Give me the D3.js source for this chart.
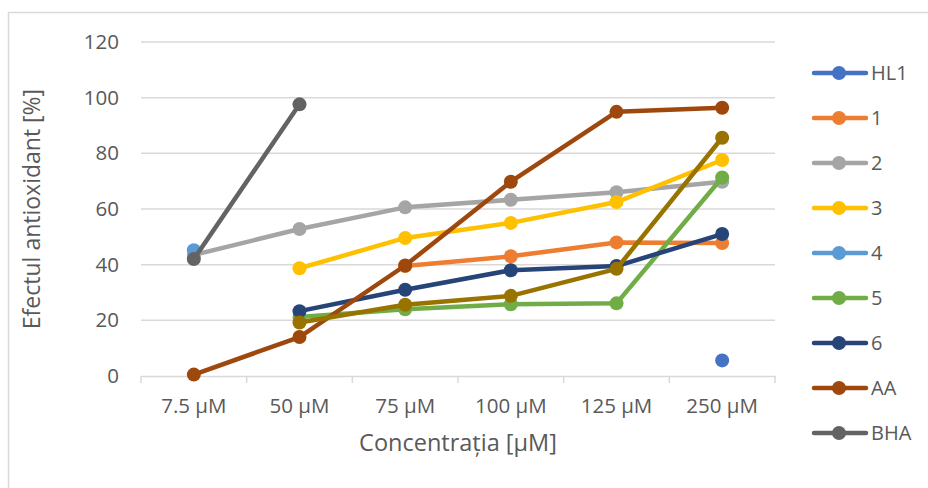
<!DOCTYPE html>
<html>
<head>
<meta charset="utf-8">
<script src="https://cdn.jsdelivr.net/npm/d3@7/dist/d3.min.js"></script>
<style>
  html, body { margin: 0; padding: 0; background: #fff; }
  svg { display: block; }
  text { font-family: "Open Sans", "Noto Sans", sans-serif; fill: #595959; }
</style>
</head>
<body>
<svg id="chart" width="928" height="488"></svg>
<script>
// ---- data ----
const categories = ["7.5 µM", "50 µM", "75 µM", "100 µM", "125 µM", "250 µM"];
const yTicks = [0, 20, 40, 60, 80, 100, 120];

const seriesHL1 = [null, null, null, null, null, 5.6];
const series1   = [null, null, 39.5, 43, 48, 47.8];
const series2   = [43.5, 52.8, 60.6, 63.3, 66, 69.8];
const series3   = [null, 38.7, 49.6, 55, 62.5, 77.6];
const series4   = [45.2, null, null, null, null, null];
const series5   = [null, 21.2, 24, 25.8, 26.1, 71.3];
const series6   = [null, 23.3, 31, 38, 39.5, 51];
const seriesAA  = [0.5, 14, 39.7, 69.8, 94.9, 96.4];
const seriesBHA = [42, 97.6, null, null, null, null];
const series7   = [null, 19.2, 25.6, 28.8, 38.5, 85.6];

const seriesNames  = ["HL1", "1", "2", "3", "4", "5", "6", "AA", "BHA", "7"];
const seriesColors = ["#4472C4", "#ED7D31", "#A5A5A5", "#FFC000", "#5B9BD5", "#70AD47", "#264478", "#9E480E", "#636363", "#997300"];
const seriesValues = [seriesHL1, series1, series2, series3, series4, series5, series6, seriesAA, seriesBHA, series7];
const legendNames  = ["HL1", "1", "2", "3", "4", "5", "6", "AA", "BHA"];

const xTitle = "Concentrația [µM]";
const yTitle = "Efectul antioxidant [%]";

// ---- layout ----
const svg = d3.select("#chart");
const plot = { left: 141, right: 775, top: 42, bottom: 376 };

// outer chart border
svg.append("rect")
  .attr("x", 8.5).attr("y", 12.5)
  .attr("width", 960).attr("height", 520)
  .attr("fill", "none").attr("stroke", "#d9d9d9").attr("stroke-width", 1.5);

const x = d3.scaleBand().domain(categories).range([plot.left, plot.right]).padding(0);
const y = d3.scaleLinear().domain([0, 120]).range([plot.bottom, plot.top]);

// gridlines
svg.append("g")
  .selectAll("line").data(yTicks.filter(d => d > 0)).join("line")
  .attr("x1", plot.left).attr("x2", plot.right)
  .attr("y1", d => y(d)).attr("y2", d => y(d))
  .attr("stroke", "#d9d9d9").attr("stroke-width", 1.5);

// y axis labels
const yAxis = svg.append("g").attr("transform", `translate(${plot.left},0)`)
  .call(d3.axisLeft(y).tickValues(yTicks).tickSize(0).tickPadding(22));
yAxis.select(".domain").remove();
yAxis.selectAll("text").style("font-size", "20.5px").attr("fill", "#595959")
  .style("font-family", "'Open Sans', sans-serif");

// x axis
const xAxis = svg.append("g").attr("transform", `translate(0,${plot.bottom})`)
  .call(d3.axisBottom(x).tickSize(0).tickPadding(22));
xAxis.select(".domain").attr("stroke", "#d9d9d9").attr("stroke-width", 1.5);
xAxis.selectAll("text").style("font-size", "20.5px").attr("fill", "#595959")
  .style("font-family", "'Open Sans', sans-serif");
// category boundary tick marks
const bounds = categories.map(c => x(c)).concat([plot.right]);
xAxis.selectAll("line.bt").data(bounds).join("line").attr("class", "bt")
  .attr("x1", d => d).attr("x2", d => d).attr("y1", 0).attr("y2", 7)
  .attr("stroke", "#d9d9d9").attr("stroke-width", 1.5);

// axis titles
svg.append("text")
  .attr("x", (plot.left + plot.right) / 2).attr("y", 451)
  .attr("text-anchor", "middle").style("font-size", "23.5px")
  .text(xTitle);
svg.append("text")
  .attr("transform", `translate(40,${(plot.top + plot.bottom) / 2}) rotate(-90)`)
  .attr("text-anchor", "middle").style("font-size", "23px")
  .text(yTitle);

// series
const cx = c => x(c) + x.bandwidth() / 2;
const line = d3.line().defined(d => d.v != null).x(d => cx(d.c)).y(d => y(d.v));

seriesValues.forEach((vals, i) => {
  const pts = vals.map((v, j) => ({ c: categories[j], v }));
  const g = svg.append("g");
  g.append("path").datum(pts)
    .attr("d", line).attr("fill", "none")
    .attr("stroke", seriesColors[i]).attr("stroke-width", 4.5)
    .attr("stroke-linejoin", "round").attr("stroke-linecap", "round");
  g.selectAll("circle").data(pts.filter(d => d.v != null)).join("circle")
    .attr("cx", d => cx(d.c)).attr("cy", d => y(d.v)).attr("r", 7)
    .attr("fill", seriesColors[i]);
});

// legend
const legend = svg.append("g");
legendNames.forEach((name, i) => {
  const col = seriesColors[seriesNames.indexOf(name)];
  const ly = 73 + i * 45;
  const g = legend.append("g").attr("transform", `translate(0,${ly})`);
  g.append("line").attr("x1", 814).attr("x2", 866).attr("y1", 0).attr("y2", 0)
    .attr("stroke", col).attr("stroke-width", 4.5).attr("stroke-linecap", "round");
  g.append("circle").attr("cx", 839).attr("cy", 0).attr("r", 7).attr("fill", col);
  g.append("text").attr("x", 871).attr("y", 0).attr("dy", "0.35em")
    .style("font-size", "20px").text(name);
});
</script>
</body>
</html>
